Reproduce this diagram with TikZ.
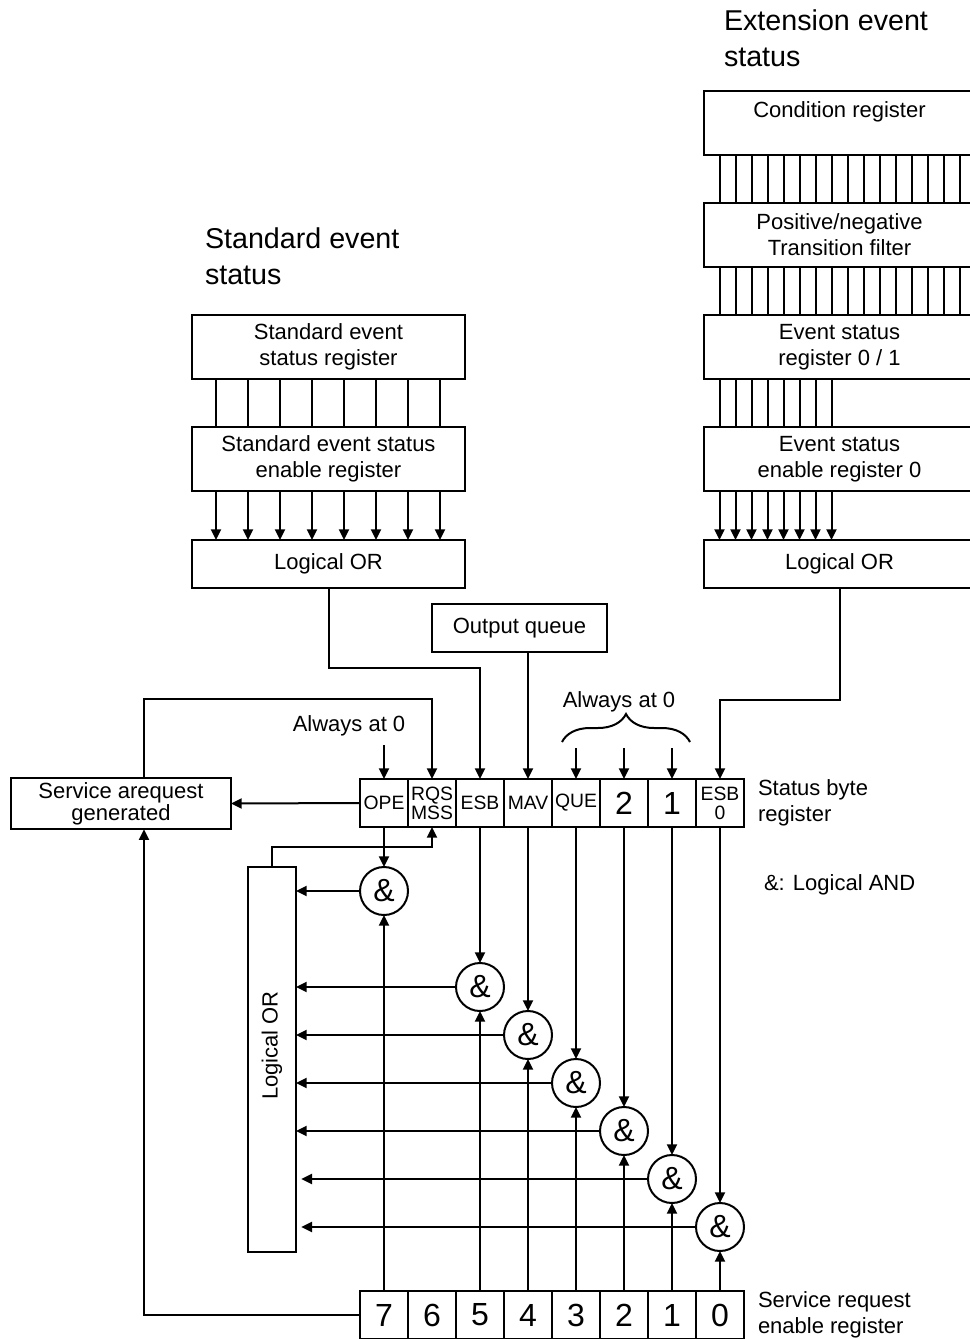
\documentclass[tikz,border=0pt]{standalone}
\usepackage{fontspec}
\setmainfont{Liberation Sans}
\usetikzlibrary{positioning,arrows.meta,decorations.pathreplacing}

\newcommand\regfont{\fontsize{16.5}{19.5}\selectfont}
\newcommand\headfont{\fontsize{21.5}{27}\selectfont}
\newcommand\bitfont{\fontsize{14.5}{14}\selectfont}
\newcommand\digitfont{\fontsize{24}{28}\selectfont}
\newcommand\andfont{\fontsize{24}{28}\selectfont}

\tikzset{
  reg/.style={draw, outer sep=0pt, inner sep=0pt, minimum width=204pt, minimum height=48pt, align=center, font=\regfont},
  bitcell/.style={draw, outer sep=0pt, inner sep=0pt, minimum size=36pt, align=center, font=\bitfont},
  numcell/.style={bitcell, font=\digitfont},
  gate/.style={draw, circle, outer sep=0pt, inner sep=0pt, minimum size=36pt, font=\andfont},
  arr/.style={-{Triangle[length=8pt,width=7.5pt]}},
  head/.style={align=left, inner sep=0pt, anchor=west, font=\headfont},
  side/.style={align=left, inner sep=0pt, anchor=west, font=\regfont},
}

\begin{document}
\begin{tikzpicture}[x=0.75pt,y=-0.75pt,line width=1.5pt]
\useasboundingbox (0,0) rectangle (970,1339);

% extension event status
\node[head] (exthead) at (723,38) {Extension event\\status};
\node[reg] (cond) at (839.5,123) {Condition register\\\mbox{}};
\node[reg] (pnfilt) at (839.5,235) {Positive/negative\\Transition filter};
\node[reg] (esr) at (839.5,347) {Event status\\register 0 / 1};
\node[reg] (eser) at (839.5,459) {Event status\\enable register 0};
\node[reg, minimum height=36pt] (extor) at (839.5,564) {Logical OR};
\foreach \k in {0,...,15} {
  \draw ([xshift={12pt+12pt*\k}]cond.south west) -- ([xshift={12pt+12pt*\k}]pnfilt.north west);
  \draw ([xshift={12pt+12pt*\k}]pnfilt.south west) -- ([xshift={12pt+12pt*\k}]esr.north west);
}
\foreach \k in {0,...,7} {
  \draw ([xshift={12pt+12pt*\k}]esr.south west) -- ([xshift={12pt+12pt*\k}]eser.north west);
  \draw[arr] ([xshift={12pt+12pt*\k}]eser.south west) -- ([xshift={12pt+12pt*\k}]extor.north west);
}

% standard event status
\node[head] (stdhead) at (204,256) {Standard event\\status};
\node[reg, minimum width=204.75pt] (sesr) at (328.5,347) {Standard event\\status register};
\node[reg, minimum width=204.75pt] (seser) at (328.5,459) {Standard event status\\enable register};
\node[reg, minimum width=204.75pt, minimum height=36pt] (stdor) at (328.5,564) {Logical OR};
\foreach \k in {0,...,7} {
  \draw ([xshift={18pt+24pt*\k}]sesr.south west) -- ([xshift={18pt+24pt*\k}]seser.north west);
  \draw[arr] ([xshift={18pt+24pt*\k}]seser.south west) -- ([xshift={18pt+24pt*\k}]stdor.north west);
}

\node[reg, minimum width=131.25pt, minimum height=36pt] (outq) at (519.5,628) {Output queue};

% status byte register
\node[bitcell] (sb7) at (384,803) {OPE};
\node[bitcell, right=0pt of sb7] (sb6) {RQS\\MSS};
\node[bitcell, right=0pt of sb6] (sb5) {ESB};
\node[bitcell, right=0pt of sb5] (sb4) {MAV};
\node[bitcell, right=0pt of sb4] (sb3) {QUE};
\node[numcell, right=0pt of sb3] (sb2) {2};
\node[numcell, right=0pt of sb2] (sb1) {1};
\node[bitcell, right=0pt of sb1] (sb0) {ESB\\0};
\node[side] (sbtxt) at ([xshift=9.75pt]sb0.east) {Status byte\\register};

% service request enable register
\node[numcell] (se7) at (384,1315) {7};
\node[numcell, right=0pt of se7] (se6) {6};
\node[numcell, right=0pt of se6] (se5) {5};
\node[numcell, right=0pt of se5] (se4) {4};
\node[numcell, right=0pt of se4] (se3) {3};
\node[numcell, right=0pt of se3] (se2) {2};
\node[numcell, right=0pt of se2] (se1) {1};
\node[numcell, right=0pt of se1] (se0) {0};
\node[side] (setxt) at ([xshift=9.75pt]se0.east) {Service request\\enable register};

\node[draw, outer sep=0pt, minimum width=165pt, minimum height=36.75pt, align=center,
  font={\fontsize{16.5}{16.5}\selectfont}] (srq) at (121,803.5) {Service arequest\\generated};

% AND gates and the OR collecting them
\node[gate] (and7) at (384,891) {\&};
\node[gate] (and5) at (480,987) {\&};
\node[gate] (and4) at (528,1035) {\&};
\node[gate] (and3) at (576,1083) {\&};
\node[gate] (and2) at (624,1131) {\&};
\node[gate] (and1) at (672,1179) {\&};
\node[gate] (and0) at (720,1227) {\&};
\node[draw, outer sep=0pt, minimum width=36pt, minimum height=288.75pt] (sror) at (272,1059.5) {};
\node[rotate=90, font=\regfont] (srortxt) at ([yshift=10.5pt]sror.center) {Logical OR};
\node[side] (andtxt) at (763,885) {\&: Logical AND};

\node[font=\regfont] (zero1) at (349,726) {Always at 0};
\node[font=\regfont] (zero2) at (619,702) {Always at 0};
\draw[decorate, decoration={brace, amplitude=21pt}] (562,742) -- (690,742);

% connectors
\draw[arr] (stdor.south) -- ++(0,80) -| (sb5.north);
\draw[arr] (outq.south -| sb4.north) -- (sb4.north);
\draw[arr] (extor.south) -- ++(0,112) -| (sb0.north);
\draw[arr] ([xshift=17.25pt]srq.north) -- ++(0,-79) -| (sb6.north);
\draw[arr] ([yshift=25.5pt]sb7.north) -- (sb7.north);
\foreach \b in {3,2,1} \draw[arr] ([yshift=23.25pt]sb\b.north) -- (sb\b.north);
\draw[arr] (sb7.west) -- (srq.east);
\draw[arr] (sror.north) -- ++(0,-20) -| (sb6.south);
\foreach \b in {7,5,4,3,2,1,0} {
  \draw[arr] (sb\b.south) -- (and\b.north);
  \draw[arr] (se\b.north) -- (and\b.south);
}
\foreach \b in {7,5,4,3,2} \draw[arr] (and\b.west) -- (and\b.west -| sror.east);
\foreach \b in {1,0} \draw[arr, shorten >=4pt] (and\b.west) -- (and\b.west -| sror.east);
\draw[arr] (se7.west) -| ([xshift=17.25pt]srq.south);
\end{tikzpicture}
\end{document}
